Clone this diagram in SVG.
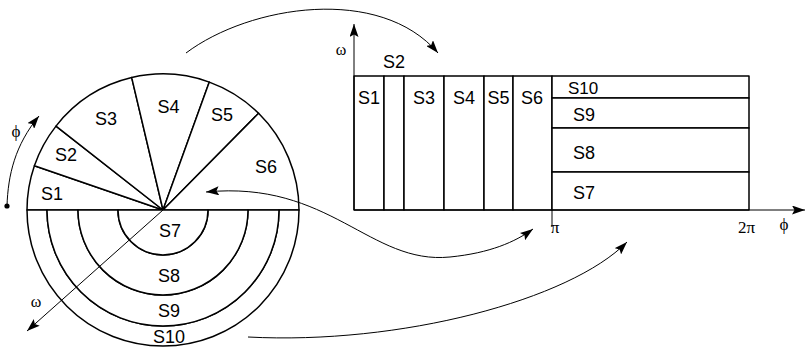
<svg xmlns="http://www.w3.org/2000/svg" width="806" height="347" viewBox="0 0 806 347">
<style>
.sh{fill:#fff;stroke:#000;stroke-width:1.5;stroke-linejoin:round}
.lb{font-family:"Liberation Sans",Arial,sans-serif;font-size:18px;fill:#000;text-anchor:middle}
.ls{font-family:"Liberation Sans",Arial,sans-serif;font-size:18px;fill:#000;text-anchor:start}
.gk{font-family:"Liberation Serif","Times New Roman",serif;font-size:17px;fill:#000;text-anchor:middle}
.cn{fill:none;stroke:#000;stroke-width:1}
</style>
<defs>
<marker id="ah" viewBox="0 0 13 9" refX="13" refY="4.5" markerWidth="13" markerHeight="9" orient="auto-start-reverse" markerUnits="userSpaceOnUse">
<path d="M0,0 L13,4.5 L0,9 L2.5,4.5 Z" fill="#000"/>
</marker>
</defs>
<rect width="806" height="347" fill="#fff"/>

<!-- circle diagram -->
<g id="pie">
<g id="pS1"><path class="sh" d="M163,210 L27,210 A136,136 0 0 1 34.4,165.7 Z"/><text class="lb" x="52" y="200">S1</text></g>
<g id="pS2"><path class="sh" d="M163,210 L34.4,165.7 A136,136 0 0 1 56,126.1 Z"/><text class="lb" x="66" y="161">S2</text></g>
<g id="pS3"><path class="sh" d="M163,210 L56,126.1 A136,136 0 0 1 131.7,77.6 Z"/><text class="lb" x="106" y="125">S3</text></g>
<g id="pS4"><path class="sh" d="M163,210 L131.7,77.6 A136,136 0 0 1 209.3,82.1 Z"/><text class="lb" x="168.5" y="113">S4</text></g>
<g id="pS5"><path class="sh" d="M163,210 L209.3,82.1 A136,136 0 0 1 258.6,113.3 Z"/><text class="lb" x="222" y="121">S5</text></g>
<g id="pS6"><path class="sh" d="M163,210 L258.6,113.3 A136,136 0 0 1 299,210 Z"/><text class="lb" x="266" y="173">S6</text></g>
<g id="pS10"><path class="sh" d="M27,210 A136,136 0 0 0 299,210 L279,210 A116,116 0 0 1 47,210 Z"/><text class="lb" x="169" y="343">S10</text></g>
<g id="pS9"><path class="sh" d="M47,210 A116,116 0 0 0 279,210 L248,210 A85,85 0 0 1 78,210 Z"/><text class="lb" x="169" y="317">S9</text></g>
<g id="pS8"><path class="sh" d="M78,210 A85,85 0 0 0 248,210 L208,210 A45,45 0 0 1 118,210 Z"/><text class="lb" x="169" y="282">S8</text></g>
<g id="pS7"><path class="sh" d="M118,210 A45,45 0 0 0 208,210 Z"/><text class="lb" x="170" y="237">S7</text></g>
</g>

<!-- rectangle diagram -->
<g id="grid">
<g id="rS1"><rect class="sh" x="354" y="76" width="30" height="134"/><text class="lb" x="369" y="104">S1</text></g>
<g id="rS2"><rect class="sh" x="384" y="76" width="20" height="134"/><text class="lb" x="394" y="68">S2</text></g>
<g id="rS3"><rect class="sh" x="404" y="76" width="40" height="134"/><text class="lb" x="424" y="104">S3</text></g>
<g id="rS4"><rect class="sh" x="444" y="76" width="40" height="134"/><text class="lb" x="464" y="104">S4</text></g>
<g id="rS5"><rect class="sh" x="484" y="76" width="29" height="134"/><text class="lb" x="498.5" y="104">S5</text></g>
<g id="rS6"><rect class="sh" x="513" y="76" width="39" height="134"/><text class="lb" x="532" y="104">S6</text></g>
<g id="rS10"><rect class="sh" x="552" y="76" width="197" height="22"/><text class="ls" x="568" y="94" style="font-size:17px">S10</text></g>
<g id="rS9"><rect class="sh" x="552" y="98" width="197" height="30"/><text class="ls" x="573" y="121">S9</text></g>
<g id="rS8"><rect class="sh" x="552" y="128" width="197" height="44"/><text class="ls" x="573" y="159">S8</text></g>
<g id="rS7"><rect class="sh" x="552" y="172" width="197" height="38"/><text class="ls" x="573" y="199">S7</text></g>
</g>

<!-- axes and labels -->
<g id="axes">
<line class="cn" x1="354" y1="210" x2="354" y2="24" marker-end="url(#ah)"/>
<line class="cn" x1="354" y1="210" x2="805" y2="210" marker-end="url(#ah)"/>
<line class="cn" x1="552" y1="210" x2="552" y2="227"/>
<line class="cn" x1="163" y1="210" x2="27" y2="331" marker-end="url(#ah)"/>
<circle cx="7" cy="206" r="2.6" fill="#000"/>
<text class="gk" x="341" y="55" style="font-size:16px">ω</text>
<text class="gk" x="36" y="307" style="font-size:16px">ω</text>
<text class="gk" x="555" y="233">π</text>
<text class="gk" x="746.5" y="233">2π</text>
<text class="gk" x="784" y="230">ϕ</text>
<text class="gk" x="16" y="137">ϕ</text>
</g>

<!-- connectors -->
<g id="connectors">
<path class="cn" d="M7,206 C8,175 15,145 39,116" marker-end="url(#ah)"/>
<path class="cn" d="M186,53 C250,5 380,-15 438,53" marker-end="url(#ah)"/>
<path class="cn" d="M206,192 C330,180 370,265 450,257 C490,253 515,242 533,229" marker-start="url(#ah)" marker-end="url(#ah)"/>
<path class="cn" d="M248,337 C400,345 570,300 627,242" marker-end="url(#ah)"/>
</g>
</svg>
